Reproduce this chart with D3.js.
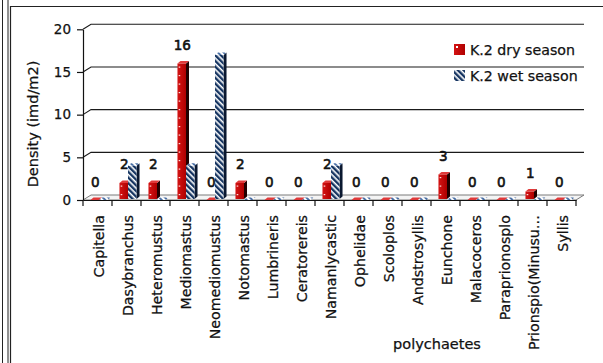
<!DOCTYPE html>
<html>
<head>
<meta charset="utf-8">
<script src="https://cdn.jsdelivr.net/npm/d3@7/dist/d3.min.js"></script>
<style>
  html, body { margin: 0; padding: 0; background: #fff; }
  svg { display: block; }
  text { font-family: "DejaVu Sans", Verdana, sans-serif; fill: #111; stroke: #111; stroke-width: 0.25px; }
</style>
</head>
<body>
<svg id="chart" width="603" height="363"></svg>
<script>
// Polychaete genera sampled at station K.2
const categories = [
  "Capitella", "Dasybranchus", "Heteromustus", "Mediomastus", "Neomediomustus",
  "Notomastus", "Lumbrineris", "Ceratorereis", "Namanlycastic", "Ophelidae",
  "Scoloplos", "Andstrosyllis", "Eunchone", "Malacoceros", "Paraprionosplo",
  "Prionspio(Minusu…", "Syllis"
];
// Density (ind/m2) per season
const drySeason = [0, 2, 2, 16, 0, 2, 0, 0, 2, 0, 0, 0, 3, 0, 0, 1, 0];
const wetSeason = [0, 4, 0, 4, 17, 0, 0, 0, 4, 0, 0, 0, 0, 0, 0, 0, 0];
const seriesNames = ["K.2 dry season", "K.2 wet season"];
const yTicks = [0, 5, 10, 15, 20];

const svg = d3.select("#chart");

// page frame lines
svg.append("line").attr("x1", 2.5).attr("x2", 2.5).attr("y1", 0).attr("y2", 363)
  .attr("stroke", "#222").attr("stroke-width", 1);
svg.append("line").attr("x1", 8).attr("x2", 8).attr("y1", 0).attr("y2", 363)
  .attr("stroke", "#222").attr("stroke-width", 1);
svg.append("path").attr("d", "M10.5,363 V6.5 H603")
  .attr("fill", "none").attr("stroke", "#222").attr("stroke-width", 1.2);

// oblique depth offset of the walls and of each bar
const wallDx = 8, wallDy = -5;
const barDx = 3, barDy = -2.5;

const x = d3.scaleBand().domain(categories).range([83, 576]);
const inner = d3.scaleBand().domain(["dry", "wet"]).range([0, x.bandwidth()]).paddingOuter(0.7);
const y = d3.scaleLinear().domain([0, 20]).range([200, 29.3]);

const defs = svg.append("defs");
const hatch = defs.append("pattern").attr("id", "hatch")
  .attr("patternUnits", "userSpaceOnUse").attr("width", 4).attr("height", 4)
  .attr("patternTransform", "rotate(-45)");
hatch.append("rect").attr("width", 4).attr("height", 4).attr("fill", "#ffffff");
hatch.append("rect").attr("width", 2.4).attr("height", 4).attr("fill", "#153461");

const hatchTop = defs.append("pattern").attr("id", "hatchTop")
  .attr("patternUnits", "userSpaceOnUse").attr("width", 4).attr("height", 4)
  .attr("patternTransform", "rotate(-45)");
hatchTop.append("rect").attr("width", 4).attr("height", 4).attr("fill", "#ffffff");
hatchTop.append("rect").attr("width", 2).attr("height", 4).attr("fill", "#4a6fa5");

const redGrad = defs.append("linearGradient").attr("id", "redFront")
  .attr("x1", 0).attr("x2", 1).attr("y1", 0).attr("y2", 0);
redGrad.append("stop").attr("offset", 0).attr("stop-color", "#d41414");
redGrad.append("stop").attr("offset", 1).attr("stop-color", "#b00000");

// back wall gridlines with their side-wall stubs
const x0 = x.range()[0], x1 = x.range()[1];
svg.append("g").selectAll("path").data(yTicks.filter(d => d > 0)).join("path")
  .attr("d", d => `M${x0},${y(d)} L${x0 + wallDx},${y(d) + wallDy} H${x1 + wallDx}`)
  .attr("fill", "none").attr("stroke", "#1a1a1a").attr("stroke-width", 1.1);

// floor
svg.append("path")
  .attr("d", `M${x0},${y(0)} L${x0 + wallDx},${y(0) + wallDy} H${x1 + wallDx} L${x1},${y(0)} Z`)
  .attr("fill", "#f4f4f4").attr("stroke", "#7a7a7a").attr("stroke-width", 1);

// 3D column helper
const rows = categories.map((c, i) => ({ c, dry: drySeason[i], wet: wetSeason[i] }));
const shift = 1.5;
const bars = svg.append("g");
function drawBar(g, bx, w, v, front, side, top) {
  const yb = y(0) - 1, yt = y(v);
  const h = yb - yt;
  if (h > 0.5) {
    g.append("path")
      .attr("d", `M${bx + w},${yb} L${bx + w + barDx},${yb + barDy} V${yt + barDy} L${bx + w},${yt} Z`)
      .attr("fill", side);
    g.append("rect").attr("x", bx).attr("y", yt).attr("width", w).attr("height", h)
      .attr("fill", front);
  }
  g.append("path")
    .attr("d", `M${bx},${yt} L${bx + barDx},${yt + barDy} H${bx + w + barDx} L${bx + w},${yt} Z`)
    .attr("fill", top);
}
rows.forEach(r => {
  const g = bars.append("g");
  const bd = x(r.c) + inner("dry") + shift;
  const bw = x(r.c) + inner("wet") + shift;
  const w = inner.bandwidth();
  drawBar(g, bd, w, r.dry, "url(#redFront)", "#220000", "#e03a3a");
  // small highlight dots on the dry columns
  if (r.dry > 0) {
    d3.range(y(0) - 6, y(r.dry), -8.5).forEach(py => {
      g.append("rect").attr("x", bd + 1.2).attr("y", py).attr("width", 1.6).attr("height", 1.2)
        .attr("fill", "#ffdede");
    });
  }
  drawBar(g, bw, w, r.wet, "url(#hatch)", "#0a1830", "url(#hatchTop)");
});

// axes
const yAxis = svg.append("g").attr("transform", `translate(${x0},0)`)
  .call(d3.axisLeft(y).tickValues(yTicks).tickSize(6).tickSizeOuter(0).tickPadding(6));
yAxis.select(".domain").attr("stroke", "#111").attr("stroke-width", 1.2);
yAxis.selectAll(".tick line").attr("stroke", "#111").attr("stroke-width", 1.2);
yAxis.selectAll("text").style("font-size", "13.5px")
  .style("font-family", "'DejaVu Sans', sans-serif").attr("fill", "#111");

const xAxis = svg.append("g").attr("transform", `translate(0,${y(0)})`)
  .call(d3.axisBottom(x).tickSize(0).tickSizeOuter(0));
xAxis.select(".domain").attr("stroke", "#111").attr("stroke-width", 1.1);
xAxis.selectAll(".tick text")
  .attr("transform", "rotate(-90)")
  .attr("text-anchor", "end")
  .attr("x", -15).attr("y", 2).attr("dy", "0.35em")
  .style("font-size", "14.2px")
  .style("font-family", "'DejaVu Sans', sans-serif").attr("fill", "#111");
// tick marks sit between categories
svg.append("g").selectAll("line").data(categories.map(c => x(c)).concat([x1])).join("line")
  .attr("x1", d => d).attr("x2", d => d).attr("y1", y(0)).attr("y2", y(0) + 6)
  .attr("stroke", "#111").attr("stroke-width", 1.2);

// dry season value labels
svg.append("g").selectAll("text").data(rows).join("text")
  .attr("x", d => x(d.c) + inner("dry") + shift + inner.bandwidth() / 2 + 0.5)
  .attr("y", d => y(d.dry) - 13.5)
  .attr("text-anchor", "middle")
  .style("font-size", "13.5px").style("stroke-width", "0.6px")
  .text(d => d.dry);

// axis titles
svg.append("text").attr("transform", "translate(38,124) rotate(-90)")
  .attr("text-anchor", "middle").style("font-size", "14.5px")
  .text("Density (imd/m2)");
svg.append("text").attr("x", 437).attr("y", 349)
  .attr("text-anchor", "middle").style("font-size", "14.5px")
  .text("polychaetes");

// legend
const legend = svg.append("g").attr("transform", "translate(454,0)");
const swatches = [["url(#redFront)", 44], ["url(#hatch)", 70]];
seriesNames.forEach((name, i) => {
  legend.append("rect").attr("x", 0).attr("y", swatches[i][1]).attr("width", 11).attr("height", 11)
    .attr("fill", swatches[i][0]);
  legend.append("text").attr("x", 16).attr("y", swatches[i][1] + 10.5)
    .style("font-size", "14.2px").text(name);
});
legend.append("rect").attr("x", 2).attr("y", 46).attr("width", 2).attr("height", 2).attr("fill", "#fff");
</script>
</body>
</html>
